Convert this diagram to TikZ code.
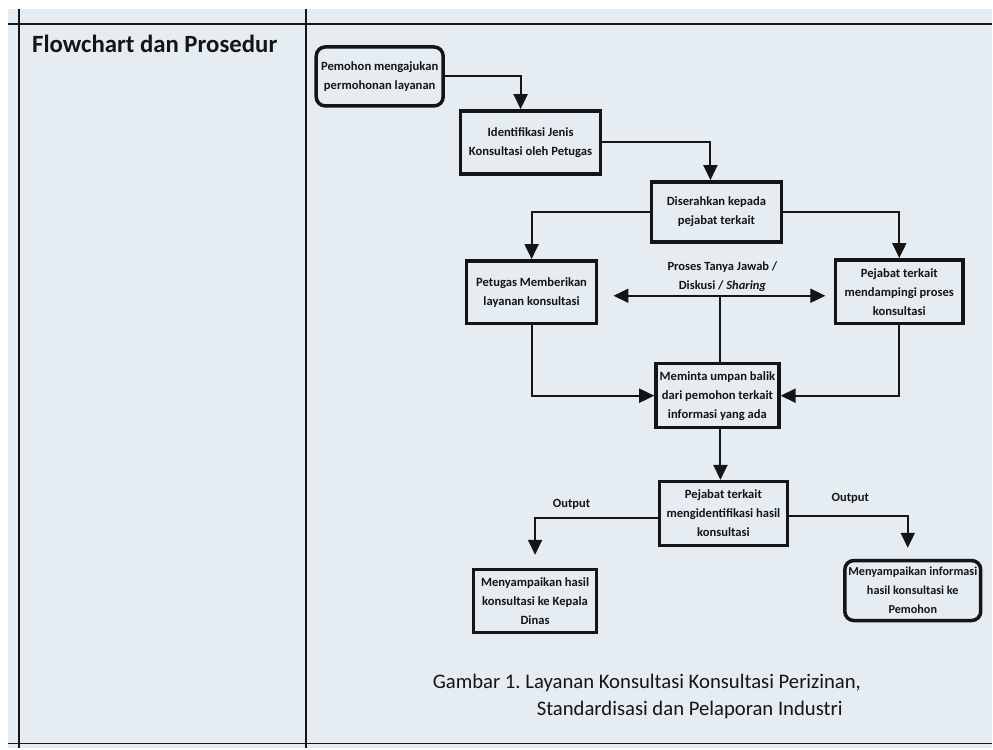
\documentclass[tikz,border=0pt]{standalone}
\usepackage{fontspec}
\setmainfont{Carlito}
\usetikzlibrary{arrows.meta,calc}
\definecolor{paper}{HTML}{E5ECF2}
\definecolor{ink}{HTML}{151515}
\frenchspacing
\begin{document}
\begin{tikzpicture}[x=1pt,y=-1pt,
  box/.style={draw=ink, line width=3.5pt, fill=paper, align=center, text=ink,
    font=\bfseries\fontsize{12.6}{19}\selectfont, inner sep=1pt},
  rbox/.style={box, rounded corners=9pt},
  rule/.style={draw=ink, line width=1.6pt},
  conn/.style={draw=ink, line width=2pt},
  arr/.style={conn, -{Triangle[length=15pt,width=14pt]}},
  biarr/.style={conn, {Triangle[length=15pt,width=14pt]}-{Triangle[length=15pt,width=14pt]}},
  lbl/.style={font=\bfseries\fontsize{12.5}{19}\selectfont, text=ink, align=center, inner sep=0pt}
]
% page and table
\fill[white] (0,0) rectangle (993,749);
\fill[paper] (8,9) rectangle (993,749);
\draw[rule] (8,24) -- (993,24);
\draw[rule] (19,9) -- (19,749);
\draw[rule] (306,9) -- (306,749);
\draw[rule] (8,744) -- (993,744);
\node[anchor=west, text=ink, font=\bfseries\fontsize{24.8}{28}\selectfont, inner sep=0pt] (title) at (32,44) {Flowchart dan Prosedur};

% boxes
\node[rbox, minimum width=127pt, minimum height=59pt] (b1) at (380,76.5) {Pemohon mengajukan\\permohonan layanan};
\node[box, minimum width=140pt, minimum height=63pt] (b2) at (531,142.5) {Identifikasi Jenis\\Konsultasi oleh Petugas};
\node[box, minimum width=130pt, minimum height=60pt] (b3) at (717,212) {Diserahkan kepada\\pejabat terkait};
\node[box, minimum width=130pt, minimum height=63pt] (b4) at (532,292.5) {Petugas Memberikan\\layanan konsultasi};
\node[box, minimum width=128pt, minimum height=64pt] (b5) at (900,292) {Pejabat terkait\\mendampingi proses\\konsultasi};
\node[box, minimum width=123pt, minimum height=64pt] (b6) at (718,396) {Meminta umpan balik\\dari pemohon terkait\\informasi yang ada};
\node[box, minimum width=128pt, minimum height=64pt] (b7) at (724,514) {Pejabat terkait\\mengidentifikasi hasil\\konsultasi};
\node[box, minimum width=123pt, minimum height=63pt] (b8) at (535.5,601.5) {Menyampaikan hasil\\konsultasi ke Kepala\\Dinas};
\node[rbox, minimum width=136pt, minimum height=60pt, font=\bfseries\fontsize{12.2}{19}\selectfont] (b9) at (913.5,591) {Menyampaikan informasi\\hasil konsultasi ke\\Pemohon};

% connectors
\draw[arr] (b1.east) -| ($(b2.north)+(-10,0)$);
\draw[arr] (b2.east) -| ($(b3.north)+(-6,0)$);
\draw[arr] (b3.west) -| (b4.north);
\draw[arr] (b3.east) -| (b5.north);

\coordinate (qL) at (614,296);
\coordinate (qR) at (826,296);
\coordinate (qJ) at (721,296);
\draw[biarr] (qL) -- (qR);
\draw[conn] (qJ) -- (qJ |- b6.north);
\node[lbl] (qlab) at (723,277) {Proses Tanya Jawab /\\Diskusi / \textit{Sharing}};

\draw[arr] (b4.south) |- (b6.west);
\draw[arr] (b5.south) |- (b6.east);
\draw[arr] (qJ |- b6.south) -- (qJ |- b7.north);

\draw[arr, shorten >=13pt] ($(b7.west)+(0,4)$) -| (b8.north);
\draw[arr, shorten >=11pt] ($(b7.east)+(0,2)$) -| ($(b9.north)+(-5,0)$);
\node[lbl] (o1) at (572,505) {Output};
\node[lbl] (o2) at (851,499) {Output};

% caption
\node[anchor=west, text=ink, font=\fontsize{20.7}{24}\selectfont, inner sep=0pt] (cap1) at (433,684) {Gambar 1. Layanan Konsultasi Konsultasi Perizinan,};
\node[anchor=west, text=ink, font=\fontsize{20.7}{24}\selectfont, inner sep=0pt] (cap2) at (537,711) {Standardisasi dan Pelaporan Industri};
\end{tikzpicture}
\end{document}
